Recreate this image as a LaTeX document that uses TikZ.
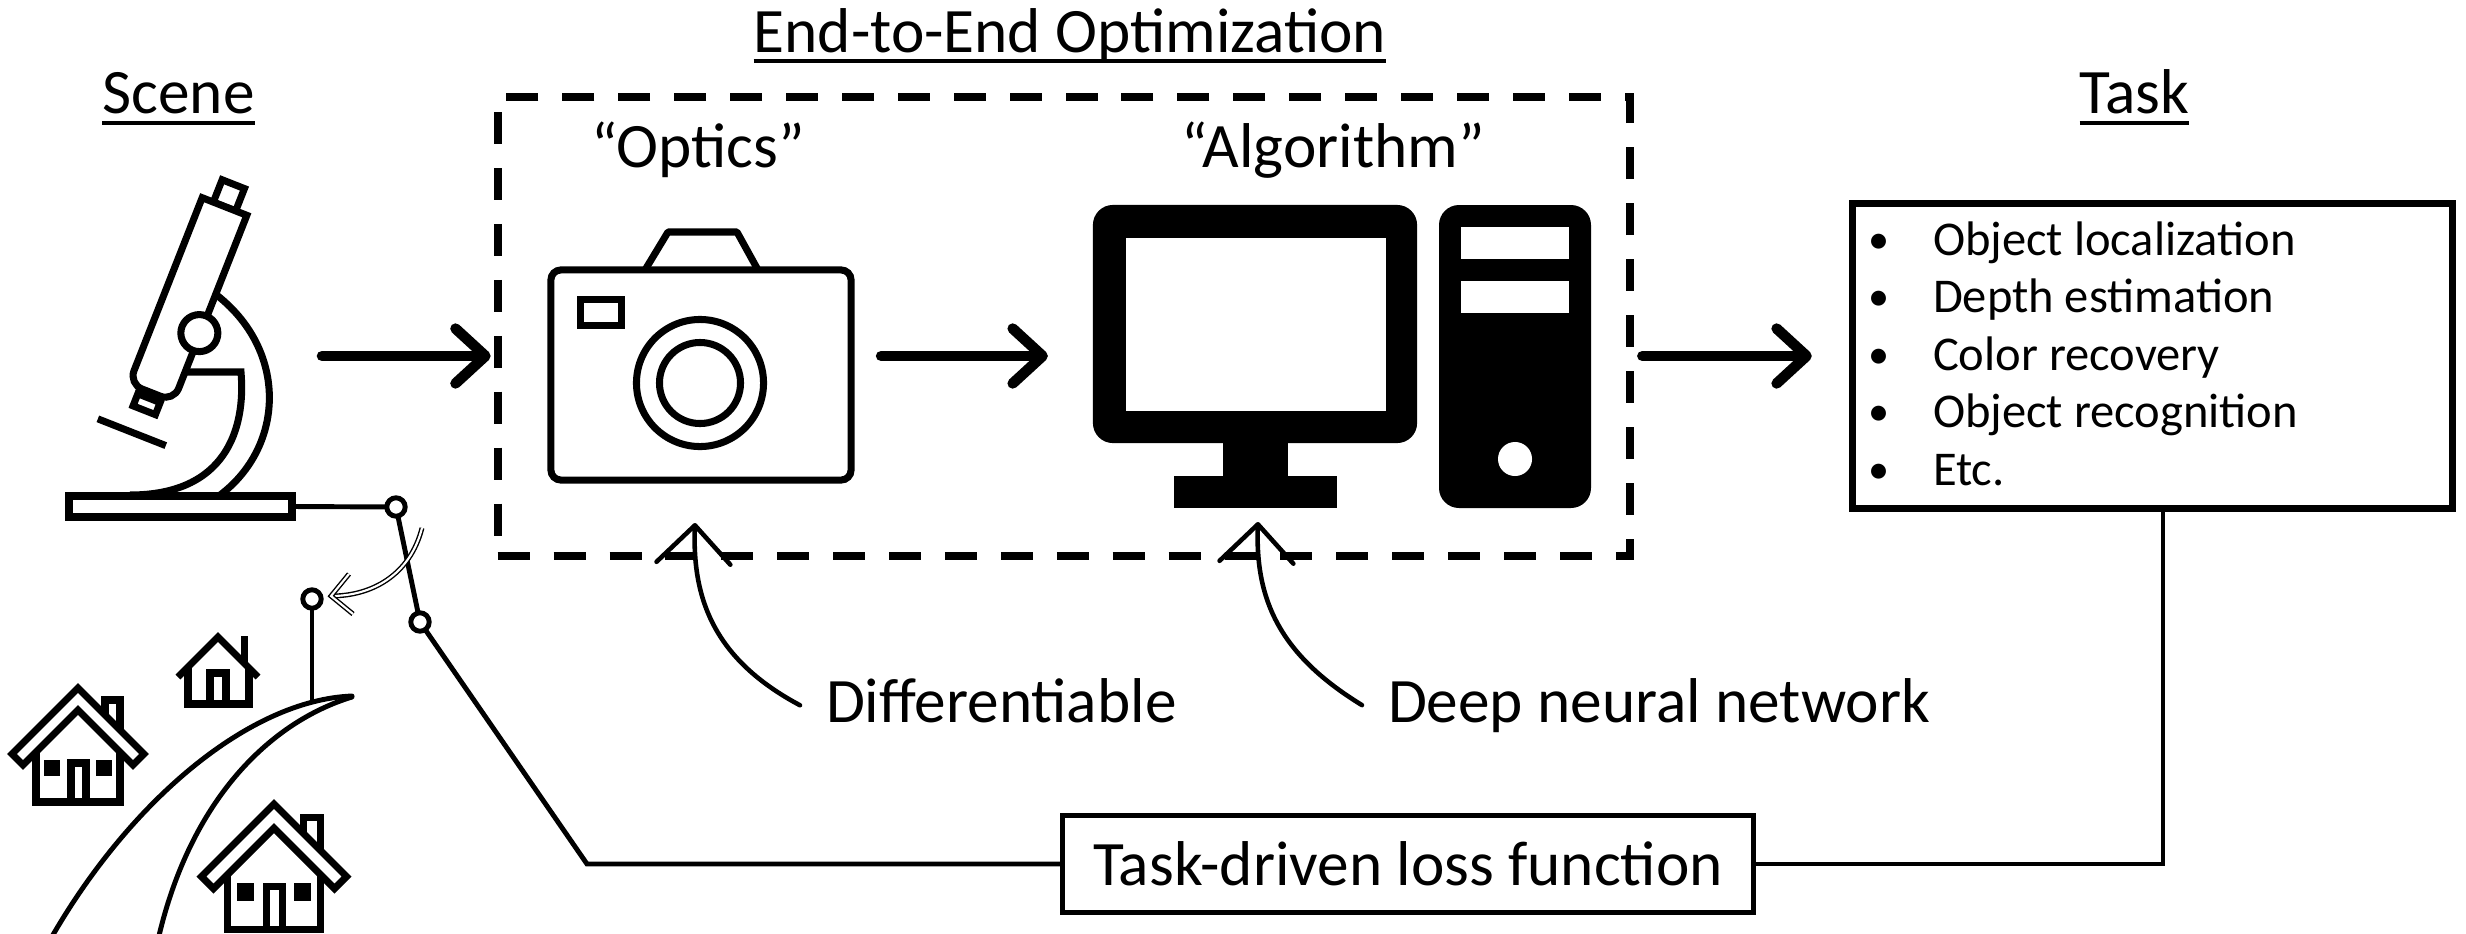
\documentclass[tikz,border=0pt]{standalone}
\usepackage{fontspec}
\setmainfont{Carlito}
\usetikzlibrary{arrows.meta}

\newcommand\bigfont{\fontsize{18}{22}\selectfont}
\newcommand\itemfont{\fontsize{13.8}{17}\selectfont}
\newcommand\dotfont{\fontsize{12}{14}\selectfont}

% a house with a hollow roof band, windows, door and chimney;
% local origin = roof apex
\newcommand\bighouse{%
  \draw[outline, fill=white] (0,0) -- (-66,66) -- (-55,77) -- (0,22) -- (55,77) -- (66,66) -- cycle;
  \draw[outline] (-42,64) -- (-42,114) -- (42,114) -- (42,64);
  \fill (-34,72) rectangle (-18,88);
  \fill (18,72) rectangle (34,88);
  \draw[outline] (-7,114) -- (-7,75) -- (8,75) -- (8,114);
  \draw[outline] (27,27) -- (27,12) -- (42,12) -- (42,42);
}

\begin{document}
\begin{tikzpicture}[x=0.01cm, y=-0.01cm,
  line join=miter,
  outline/.style={line width=2pt},
  wire/.style={line width=1.4pt},
  flow/.style={line width=3pt, line cap=round, -{Straight Barb[length=8.5pt,width=15.6pt,round]}},
  pointer/.style={line width=1.3pt, line cap=round, -{Straight Barb[length=10.8pt,width=21pt,round]}},
  twinline/.style={draw=black, line width=0.4pt, double=white, double distance=0.6pt},
  label/.style={inner sep=0pt, outer sep=0pt, font=\bigfont},
  tasktext/.style={inner sep=0pt, outer sep=0pt, anchor=base west, font=\itemfont},
  dot/.style={inner sep=0pt, outer sep=0pt, anchor=base, font=\dotfont},
  pivot/.style={circle, draw, fill=white, line width=1.4pt, minimum size=0.184cm, inner sep=0pt, outer sep=0pt},
  headline/.style={line width=1.1pt},
]

\useasboundingbox (0,0) rectangle (2466,933);
\fill[white] (0,0) rectangle (2466,933);

% ---------- headings ----------
\node[label, anchor=base] (scene) at (178.5,113) {Scene};
\node[label, anchor=base] (e2e) at (1070,52) {End-to-End Optimization};
\node[label, anchor=base] (tasklbl) at (2134.5,113) {Task};
\draw[headline] ([yshift=-0.1cm]scene.base west) -- ([yshift=-0.1cm]scene.base east);
\draw[headline] ([yshift=-0.09cm]e2e.base west) -- ([yshift=-0.09cm]e2e.base east);
\draw[headline] ([yshift=-0.1cm]tasklbl.base west) -- ([yshift=-0.1cm]tasklbl.base east);

% ---------- end-to-end frame ----------
\node[draw, line width=2.3pt, dash pattern=on 9.1pt off 6.8pt, minimum width=11.32cm,
      minimum height=4.59cm, inner sep=0pt, outer sep=0pt] (opt) at (1064,326.5) {};
\node[label, anchor=base] (optics) at (698,167) {“Optics”};
\node[label, anchor=base] (algo) at (1333,167) {“Algorithm”};

% ---------- microscope ----------
% arm
\draw[outline] (214,293) .. controls (290,350) and (285,450) .. (216,498);
\draw[outline] (180,372) -- (241,372) .. controls (246,430) and (225,495) .. (130,495);
\begin{scope}[shift={(224.5,206.5)}, rotate=-21.5]
  \draw[outline, fill=white] (-12,-24) rectangle (12,0);
  \draw[outline, fill=white] (-12,206) rectangle (12,219);
  \draw[outline, fill=white] (-24,0) -- (24,0) -- (24,186)
        .. controls (24,193.7) and (17.7,200) .. (10,200) -- (-10,200)
        .. controls (-17.7,200) and (-24,193.7) .. (-24,186) -- cycle;
  \draw[line width=2pt] (-40,244) -- (33,244);
  \draw[outline, fill=white] (23,127) circle[radius=0.185cm];
\end{scope}
\node[draw, fill=white, line width=2.1pt, minimum width=2.23cm, minimum height=0.21cm,
      inner sep=0pt, outer sep=0pt] (stage) at (180.5,506.5) {};

% ---------- switch ----------
\node[pivot] (sw1) at (396,507) {};
\node[pivot] (sw2) at (420,622) {};
\node[pivot] (sw3) at (312,599) {};
\draw[wire] (stage.east) -- (sw1);
\draw[wire] (sw1) -- (sw2);
\coordinate (hilltop) at (312,701);
\draw[wire] (sw3) -- (hilltop);
\coordinate (swingA) at (422,528);
\coordinate (swingB) at (331,596);
\draw[twinline] (swingA) .. controls (410,575) and (372,596) .. (swingB);
\draw[twinline] (349,574) -- (swingB) -- (353,614);

% ---------- hill and houses ----------
\draw[line width=1.4pt, line cap=round] (50,940) .. controls (130,800) and (250,700) .. (352,696);
\draw[line width=1.4pt, line cap=round] (158,940) .. controls (190,800) and (270,722) .. (352,697);

\draw[outline] (178,677) -- (218,637) -- (258,677);
\draw[outline] (188,667) -- (188,704) -- (249,704) -- (249,668);
\draw[outline] (210,704) -- (210,673) -- (226,673) -- (226,704);
\draw[line width=2.2pt] (244.5,636) -- (244.5,664);

\begin{scope}[shift={(78,688)}]
  \bighouse
\end{scope}
\begin{scope}[shift={(274,804)}, scale=1.1]
  \bighouse
\end{scope}

% ---------- camera ----------
\draw[outline, line join=round] (645,270) -- (668,232) -- (737,232) -- (758,270);
\node[draw, line width=2pt, rounded corners=0.1cm, minimum width=3cm, minimum height=2.1cm,
      inner sep=0pt, outer sep=0pt] (cam) at (701,375) {};
\draw[outline] (580.5,299.5) rectangle (621.5,325.5);
\draw[outline] (700,383) circle[radius=0.635cm];
\draw[outline] (700,383) circle[radius=0.405cm];

% ---------- computer ----------
\node[fill=black, rounded corners=0.2cm, minimum width=3.24cm, minimum height=2.38cm,
      inner sep=0pt, outer sep=0pt] (mon) at (1255,324) {};
\fill[white] (1126,238) rectangle (1386,411);
\fill (1223,440) rectangle (1288,478);
\fill (1174,476) rectangle (1337,508);
\fill[rounded corners=0.2cm] (1439,205) rectangle (1591,508);
\fill[white] (1461,227) rectangle (1569,259);
\fill[white] (1461,281) rectangle (1569,313);
\fill[white] (1515,459) circle[radius=0.17cm];

% ---------- task box ----------
\node[draw, line width=2pt, minimum width=5.99cm, minimum height=3.05cm,
      inner sep=0pt, outer sep=0pt] (task) at (2152.5,356) {};
\node[dot] at (1879,253) {•};
\node[dot] at (1879,310.5) {•};
\node[dot] at (1879,368) {•};
\node[dot] at (1879,425.5) {•};
\node[dot] at (1879,483) {•};
\node[tasktext] at (1933,255) {Object localization};
\node[tasktext] at (1933,312.5) {Depth estimation};
\node[tasktext] at (1933,370) {Color recovery};
\node[tasktext] at (1933,427.5) {Object recognition};
\node[tasktext] at (1933,485) {Etc.};

% ---------- main flow ----------
\coordinate (scnout) at (322,356);
\draw[flow, shorten >=0.07cm] (scnout) -- (scnout -| opt.west);
\coordinate (camout) at ([yshift=0.19cm]cam.east);
\draw[flow, shorten <=0.30cm, shorten >=0.45cm] (camout) -- (camout -| mon.west);
\draw[flow, shorten <=0.12cm, shorten >=0.41cm] (task.west -| opt.east) -- (task.west);

% ---------- annotations ----------
\node[label, anchor=base west] (difftxt) at (826,722) {Differentiable};
\node[label, anchor=base west] (dnntxt) at (1388,722) {Deep neural network};
\coordinate (opttip) at (695,523);
\coordinate (algtip) at (1258,522);
\draw[pointer] ([xshift=-0.26cm, yshift=-0.05cm]difftxt.west) .. controls (715,660) and (692,600) .. (opttip);
\draw[pointer] ([xshift=-0.26cm]dnntxt.west) .. controls (1280,655) and (1255,600) .. (algtip);

% ---------- loss ----------
\node[draw, line width=1.4pt, minimum width=6.91cm, minimum height=0.97cm,
      inner sep=0pt, outer sep=0pt, font=\bigfont] (loss) at (1408,864) {Task-driven loss function};
\coordinate (kink) at (587,864);
\draw[wire] (sw2) -- (kink) -- (loss.west);
\draw[wire] (loss.east) -| ([xshift=0.105cm]task.south);

\end{tikzpicture}
\end{document}
